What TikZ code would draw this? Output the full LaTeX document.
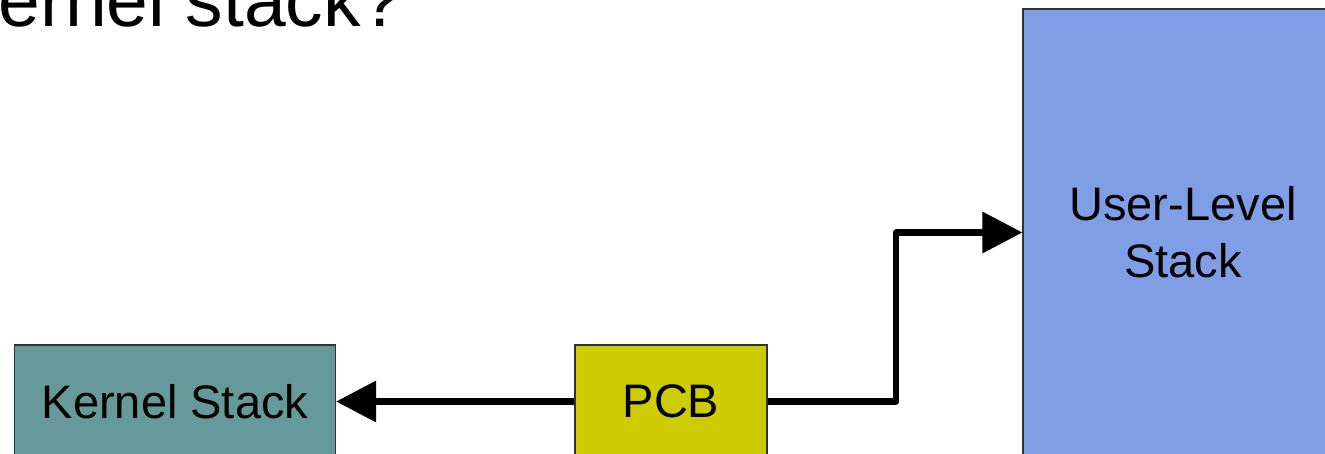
\documentclass[tikz,border=0pt]{standalone}
\usepackage{fontspec}
\setmainfont{Liberation Sans}
\usetikzlibrary{arrows.meta}
\definecolor{kernelfill}{RGB}{102,153,153}
\definecolor{pcbfill}{RGB}{204,204,0}
\definecolor{userfill}{RGB}{128,158,230}
\tikzset{
  stackbox/.style={draw=black!80, line width=1.2pt, inner sep=0pt, align=center,
    font=\fontsize{47}{57}\selectfont},
  conn/.style={line width=6.5pt, line join=round,
    -{Triangle[length=40pt,width=40pt]}}
}
\begin{document}
\begin{tikzpicture}[x=1pt,y=-1pt]
\useasboundingbox (0,0) rectangle (1325,453);
\clip (0,0) rectangle (1325,453);
\node[anchor=base east, inner sep=0pt, font=\fontsize{75}{90}\selectfont] (title) at (403,26) {ernel stack?};
\node[stackbox, fill=kernelfill, minimum width=321pt, minimum height=113pt] (kernel) at (175,401.5) {Kernel Stack};
\node[stackbox, fill=pcbfill, minimum width=192pt, minimum height=113pt] (pcb) at (671,401.5) {PCB};
\node[stackbox, fill=userfill, minimum width=320pt, minimum height=447pt] (user) at (1183,232.5) {User-Level\\Stack};
\draw[conn] (pcb.west) -- (kernel.east);
\draw[conn] (pcb.east) -- ++(128.5,0) |- (user.west);
\end{tikzpicture}
\end{document}
